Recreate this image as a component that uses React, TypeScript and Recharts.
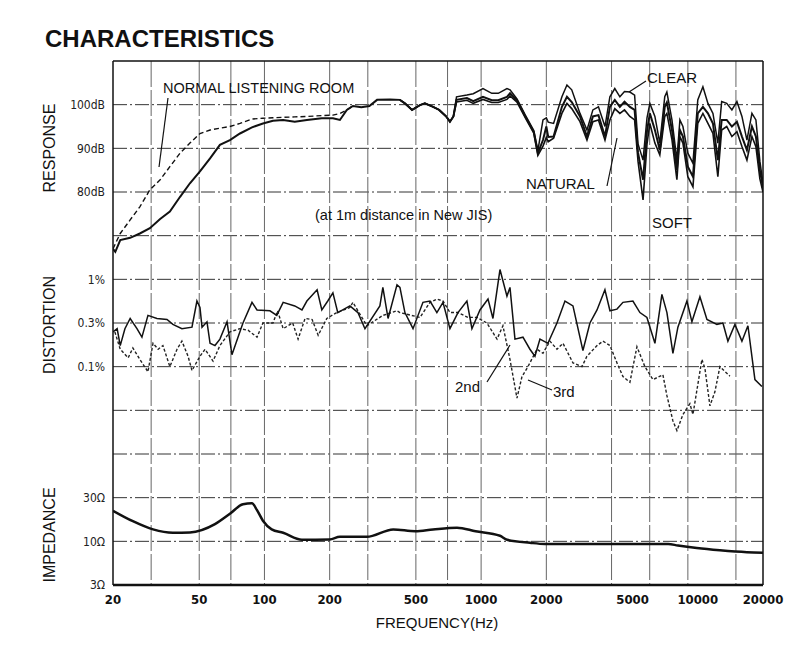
import React from 'react';
import { LineChart, Line, XAxis, YAxis, CartesianGrid, ReferenceLine } from 'recharts';

// ---------- axes ----------
const xTicks = [20, 50, 100, 200, 500, 1000, 2000, 5000, 10000, 20000];
const xGrid = [30, 40, 50, 60, 70, 80, 90, 100, 150, 200, 300, 400, 500, 600, 700, 800, 900, 1000, 1500, 2000, 3000, 4000, 5000, 6000, 7000, 8000, 9000, 10000, 15000];
const respTickDb = [80, 90, 100];
const respTickLabels = ['80dB', '90dB', '100dB'];
const distTickPct = [0.1, 0.3, 1];
const distTickLabels = ['0.1%', '0.3%', '1%'];
const impTickOhm = [3, 10, 30];
const impTickLabels = ['3Ω', '10Ω', '30Ω'];

// ---------- response (dB) ----------
const lfFreq = [20, 20.5, 21.6, 24.0, 26.6, 29.6, 33.0, 36.6, 40.8, 45.3, 50.4, 56.1, 62.3, 69.3, 77.1, 87.6, 98.4, 109.5, 122, 138, 157, 184, 207, 223, 240, 256, 280, 305, 331, 380];
const lfNatural = [67.0, 66.3, 69.0, 69.5, 70.5, 71.7, 73.8, 75.5, 78.9, 82.0, 84.7, 87.7, 90.8, 91.9, 93.4, 94.8, 95.7, 96.3, 96.5, 96.1, 96.5, 96.9, 96.9, 96.5, 98.8, 99.7, 99.4, 99.7, 101.1, 101.2];

const roomFreq = [20, 21.6, 24.0, 26.6, 29.6, 33.0, 36.6, 40.8, 45.3, 50.4, 56.1, 62.3, 69.3, 77.1, 87.6, 98.4, 109.5, 122, 138, 157, 184, 207, 223, 240, 256];
const roomDb = [67.0, 70.5, 73.6, 76.6, 80.5, 82.8, 85.8, 88.9, 91.2, 93.4, 94.2, 94.6, 95.0, 95.7, 96.7, 96.9, 97.0, 97.1, 97.2, 97.3, 97.5, 97.6, 98.0, 98.8, 99.7];

const hfFreq = [422, 445, 480, 522, 550, 600, 640, 690, 718, 745, 770, 860, 920, 1020, 1120, 1200, 1316, 1360, 1464, 1600, 1750, 1828, 1930, 2000, 2040, 2160, 2360, 2490, 2620, 2860, 3080, 3280, 3480, 3730, 3930, 4140, 4370, 4590, 4860, 5110, 5300, 5590, 5830, 6010, 6340, 6680, 7040, 7200, 7600, 8010, 8270, 8540, 9000, 9500, 10000, 10560, 11140, 11750, 12380, 12890, 13600, 14370, 15160, 15990, 16860, 17780, 18550, 19350, 20000];
const hfNatural = [101.1, 100.3, 98.8, 99.9, 100.3, 99.5, 98.8, 97.3, 96.1, 97.3,
  101.1, 101.5, 100.8, 101.8, 101.0, 101.0, 101.8, 102.6, 101.0, 97.3,
  93.8, 88.9, 91.9, 95.0, 92.6, 92.7, 99.5, 101.8, 100.6, 97.3,
  92.7, 97.3, 97.6, 92.7, 99.5, 101.1, 99.5, 100.7, 99.5, 98.8,
  89.0, 82.8, 94.0, 98.0, 94.2, 89.6, 99.5, 100.5, 94.2, 85.0,
  94.2, 92.7, 85.8, 83.5, 98.0, 99.5, 98.0, 95.7, 87.3, 96.5,
  96.5, 95.0, 96.1, 92.7, 89.6, 95.0, 92.7, 85.0, 81.0];
const hfClear = [101.1, 100.3, 98.8, 99.9, 100.3, 99.5, 98.8, 97.3, 96.1, 97.3,
  101.8, 102.2, 102.5, 103.7, 102.6, 102.6, 103.7, 103.4, 101.3, 97.6,
  94.1, 89.5, 96.5, 97.0, 96.0, 95.7, 101.8, 104.5, 103.4, 98.0,
  94.2, 98.8, 99.5, 95.0, 101.8, 103.7, 101.8, 103.0, 102.9, 102.2,
  91.0, 87.3, 97.0, 100.3, 97.3, 91.2, 101.8, 102.9, 96.5, 87.3,
  96.5, 95.0, 88.9, 86.6, 101.1, 104.1, 100.3, 98.0, 91.2, 100.7,
  100.3, 98.8, 100.7, 97.3, 91.9, 98.0, 96.5, 87.0, 82.0];
const hfSoft = [101.1, 100.3, 98.8, 99.9, 100.3, 99.5, 98.8, 97.3, 96.1, 97.3,
  100.6, 101.0, 100.3, 101.2, 100.5, 100.5, 101.2, 102.0, 100.6, 97.0,
  93.5, 88.4, 90.5, 92.5, 91.5, 92.3, 98.0, 100.3, 99.1, 96.1,
  91.9, 96.1, 96.5, 91.9, 96.5, 99.1, 98.0, 98.8, 97.3, 96.5,
  87.0, 78.2, 91.0, 95.7, 91.2, 88.5, 97.3, 98.0, 92.0, 82.8,
  92.7, 91.2, 83.5, 81.2, 95.7, 98.0, 95.7, 93.4, 83.5, 94.2,
  95.0, 92.7, 93.8, 90.4, 87.3, 92.7, 90.4, 83.0, 80.0];

// ---------- distortion (%) ----------
const d2Freq = [20, 20.9, 21.6, 22.7, 24.0, 25.8, 27.2, 29.0, 31.9, 35.5, 37.8, 41.6, 46.3, 48.8, 50.4, 51.5, 54.3, 56.1, 59.1, 62.3, 67.2, 70.8, 75.5, 79.6, 87.6, 92.4, 106, 114, 122, 138, 149, 157, 175, 184, 196, 207, 218, 248, 270, 291, 341, 352, 372, 409, 422, 445, 485, 539, 581, 625, 667, 718, 782, 860, 907, 988, 1076, 1134, 1222, 1316, 1359, 1433, 1560, 1680, 1772, 1869, 2034, 2239, 2438, 2654, 2951, 3179, 3427, 3728, 3932, 4237, 4515, 5020, 5407, 5825, 6342, 6831, 7205, 7678, 8096, 8911, 9397, 10230, 11022, 12256, 13061, 13774, 14839, 15987, 17040, 18354, 19766];
const d2Pct = [0.24, 0.26, 0.17, 0.26, 0.34, 0.26, 0.21, 0.37, 0.34, 0.33, 0.29, 0.26, 0.27, 0.55, 0.46, 0.27, 0.31, 0.18, 0.17, 0.2, 0.31, 0.135, 0.21, 0.3, 0.53, 0.43, 0.42, 0.37, 0.53, 0.48, 0.43, 0.55, 0.75, 0.43, 0.55, 0.69, 0.40, 0.48, 0.40, 0.26, 0.48, 0.8, 0.34, 0.86, 0.8, 0.4, 0.26, 0.53, 0.55, 0.4, 0.53, 0.26, 0.40, 0.55, 0.26, 0.43, 0.58, 0.34, 1.28, 0.63, 0.8, 0.2, 0.21, 0.155, 0.13, 0.2, 0.18, 0.3, 0.55, 0.48, 0.15, 0.3, 0.43, 0.75, 0.42, 0.44, 0.53, 0.55, 0.4, 0.35, 0.18, 0.66, 0.4, 0.14, 0.27, 0.55, 0.31, 0.62, 0.33, 0.29, 0.3, 0.19, 0.29, 0.19, 0.28, 0.07, 0.058];
const d3Freq = [20.4, 21.6, 23.5, 24.7, 26.6, 29.0, 30.6, 32.3, 34.0, 36.6, 39.5, 41.6, 44.4, 46.3, 50.4, 53.2, 57.9, 62.3, 69.3, 77.1, 84.0, 92.4, 98.4, 109.5, 115, 122, 135, 143, 154, 166, 177, 194, 216, 248, 256, 297, 352, 409, 422, 522, 581, 625, 667, 718, 782, 870, 957, 1064, 1184, 1261, 1359, 1464, 1544, 1645, 1810, 1929, 2078, 2239, 2387, 2654, 2920, 3079, 3427, 3651, 3932, 4237, 4515, 4862, 5238, 5702, 6208, 6904, 7205, 7678, 8012, 8541, 9199, 9498, 10450, 10790, 11379, 11997, 12651, 14071];
const d3Pct = [0.24, 0.155, 0.125, 0.16, 0.12, 0.087, 0.18, 0.155, 0.17, 0.1, 0.155, 0.19, 0.13, 0.09, 0.13, 0.155, 0.115, 0.17, 0.24, 0.26, 0.25, 0.21, 0.3, 0.3, 0.42, 0.26, 0.3, 0.2, 0.34, 0.33, 0.22, 0.34, 0.4, 0.46, 0.53, 0.28, 0.37, 0.42, 0.4, 0.35, 0.53, 0.58, 0.55, 0.4, 0.4, 0.35, 0.35, 0.3, 0.2, 0.28, 0.12, 0.042, 0.076, 0.1, 0.155, 0.14, 0.19, 0.155, 0.18, 0.11, 0.1, 0.13, 0.17, 0.19, 0.17, 0.11, 0.076, 0.065, 0.165, 0.1, 0.07, 0.08, 0.045, 0.023, 0.018, 0.027, 0.036, 0.027, 0.12, 0.095, 0.034, 0.05, 0.1, 0.077];

// ---------- impedance (ohm) ----------
const impFreq = [20, 24.7, 30.6, 37.8, 45.3, 59.1, 69.3, 79.6, 87.6, 92.4, 98.4, 108, 122, 149, 200, 223, 297, 393, 497, 600, 774, 943, 1222, 1318, 1680, 1970, 7300, 8100, 9900, 12650, 16860, 20000];
const impOhm = [21.6, 16.6, 13.5, 12.4, 12.5, 15.4, 20, 25.4, 26, 21.9, 16.8, 13.5, 12.4, 10.4, 10.5, 11.2, 11.2, 13.5, 12.9, 13.5, 14.1, 12.9, 11.5, 10.4, 9.6, 9.3, 9.3, 8.9, 8.3, 7.8, 7.4, 7.3];

// ---------- shared vertical grid scale (one chart paper, 12 divisions) ----------
const respU = (db: number) => 8 + (db - 70) / 10;
const logMap = (anchors: number[][]) => (v: number) => {
  const lv = Math.log10(v);
  for (let i = 0; i < anchors.length - 1; i++) {
    const [a0, u0] = anchors[i];
    const [a1, u1] = anchors[i + 1];
    if (v <= a1 || i === anchors.length - 2) {
      return u0 + ((lv - Math.log10(a0)) / (Math.log10(a1) - Math.log10(a0))) * (u1 - u0);
    }
  }
  return 0;
};
const distU = logMap([[0.01, 3], [0.03, 4], [0.1, 5], [0.3, 6], [1, 7], [3, 8]]);
const impU = logMap([[1, -1], [3, 0], [10, 1], [30, 2], [100, 3]]);

const rows = (fs: number[], vs: number[], m: (v: number) => number) => fs.map((f, i) => ({ f, v: m(vs[i]) }));

const naturalRows = [...rows(lfFreq, lfNatural, respU), ...rows(hfFreq, hfNatural, respU)];
const roomRows = rows(roomFreq, roomDb, respU);
const clearRows = rows(hfFreq, hfClear, respU);
const softRows = rows(hfFreq, hfSoft, respU);
const d2Rows = rows(d2Freq, d2Pct, distU);
const d3Rows = rows(d3Freq, d3Pct, distU);
const impRows = rows(impFreq, impOhm, impU);

const yTickPairs: [number, string][] = [
  ...impTickOhm.map((v, i) => [impU(v), impTickLabels[i]] as [number, string]),
  ...distTickPct.map((v, i) => [distU(v), distTickLabels[i]] as [number, string]),
  ...respTickDb.map((v, i) => [respU(v), respTickLabels[i]] as [number, string]),
];
const yTicks = yTickPairs.map((p) => p[0]);
const yLabel = (u: number) => {
  const hit = yTickPairs.find((p) => Math.abs(p[0] - u) < 1e-6);
  return hit ? hit[1] : '';
};
const hGrid = [1, 2, 3, 4, 5, 6, 7, 8, 9, 10, 11];

const fmtHz = (v: number) => String(v);
const sans = "'Liberation Sans', Arial, Helvetica, sans-serif";
const narrow = "'DejaVu Sans Condensed', 'Liberation Sans Narrow', 'Liberation Sans', sans-serif";

export default function App() {
  return (
    <div style={{ position: 'absolute', left: 0, top: 0, width: 800, height: 650, background: '#fff' }}>
      <LineChart width={800} height={650} margin={{ top: 61, right: 37, bottom: 35, left: 53 }}>
        <CartesianGrid horizontal vertical={false} horizontalValues={hGrid} stroke="#333" strokeWidth={1} strokeDasharray="14 3 2 3" />
        <CartesianGrid horizontal={false} vertical verticalValues={xGrid} stroke="#666" strokeWidth={1} strokeDasharray="26 3" />
        <XAxis
          dataKey="f"
          type="number"
          scale="log"
          domain={[20, 20000]}
          ticks={xTicks}
          allowDataOverflow
          height={30}
          tickFormatter={fmtHz}
          tickLine={false}
          tickSize={0}
          tickMargin={10}
          axisLine={{ stroke: '#111', strokeWidth: 2.5 }}
          tick={{ fill: '#111', fontSize: 13, fontWeight: 700, fontFamily: narrow }}
        />
        <YAxis
          type="number"
          domain={[0, 12]}
          ticks={yTicks}
          allowDataOverflow
          width={60}
          tickFormatter={yLabel}
          tickLine={false}
          tickSize={0}
          tickMargin={8}
          axisLine={{ stroke: '#111', strokeWidth: 1.5 }}
          tick={{ fill: '#222', fontSize: 12, fontFamily: narrow }}
        />
        <ReferenceLine y={12} stroke="#111" strokeWidth={1.5} />
        <ReferenceLine x={20000} stroke="#111" strokeWidth={1.5} />
        <Line data={roomRows} dataKey="v" type="linear" dot={false} stroke="#111" strokeWidth={1.4} strokeDasharray="5 3" isAnimationActive={false} />
        <Line data={clearRows} dataKey="v" type="linear" dot={false} stroke="#111" strokeWidth={1.5} isAnimationActive={false} />
        <Line data={softRows} dataKey="v" type="linear" dot={false} stroke="#111" strokeWidth={1.6} isAnimationActive={false} />
        <Line data={naturalRows} dataKey="v" type="linear" dot={false} stroke="#111" strokeWidth={2} isAnimationActive={false} />
        <Line data={d3Rows} dataKey="v" type="linear" dot={false} stroke="#222" strokeWidth={1.4} strokeDasharray="3 2" isAnimationActive={false} />
        <Line data={d2Rows} dataKey="v" type="linear" dot={false} stroke="#111" strokeWidth={1.5} isAnimationActive={false} />
        <Line data={impRows} dataKey="v" type="monotone" dot={false} stroke="#111" strokeWidth={2.5} isAnimationActive={false} />
      </LineChart>
      <svg width={800} height={650} style={{ position: 'absolute', left: 0, top: 0, pointerEvents: 'none' }} fontFamily={sans} fill="#111">
        <text x={45} y={47} fontSize={24} fontWeight={700}>CHARACTERISTICS</text>
        <text transform="translate(55,148) rotate(-90)" textAnchor="middle" fontSize={16}>RESPONSE</text>
        <text transform="translate(55,325) rotate(-90)" textAnchor="middle" fontSize={16}>DISTORTION</text>
        <text transform="translate(55,535) rotate(-90)" textAnchor="middle" fontSize={16}>IMPEDANCE</text>
        <text x={437} y={628} textAnchor="middle" fontSize={15}>FREQUENCY(Hz)</text>
        <text x={163} y={93} fontSize={14.5}>NORMAL LISTENING ROOM</text>
        <line x1={168} y1={98} x2={159} y2={167} stroke="#111" strokeWidth={1.2} />
        <text x={315} y={220} fontSize={14.5}>(at 1m distance in New JIS)</text>
        <text x={647} y={83} fontSize={15}>CLEAR</text>
        <line x1={629} y1={92} x2={646} y2={81} stroke="#111" strokeWidth={1.2} />
        <text x={526} y={189} fontSize={15}>NATURAL</text>
        <line x1={607} y1={186} x2={617} y2={138} stroke="#111" strokeWidth={1.2} />
        <text x={652} y={228} fontSize={15}>SOFT</text>
        <text x={455} y={392} fontSize={15}>2nd</text>
        <line x1={487} y1={382} x2={510} y2={345} stroke="#111" strokeWidth={1.2} />
        <text x={553} y={397} fontSize={15}>3rd</text>
        <line x1={552} y1={390} x2={528} y2={380} stroke="#111" strokeWidth={1.2} />
      </svg>
    </div>
  );
}
